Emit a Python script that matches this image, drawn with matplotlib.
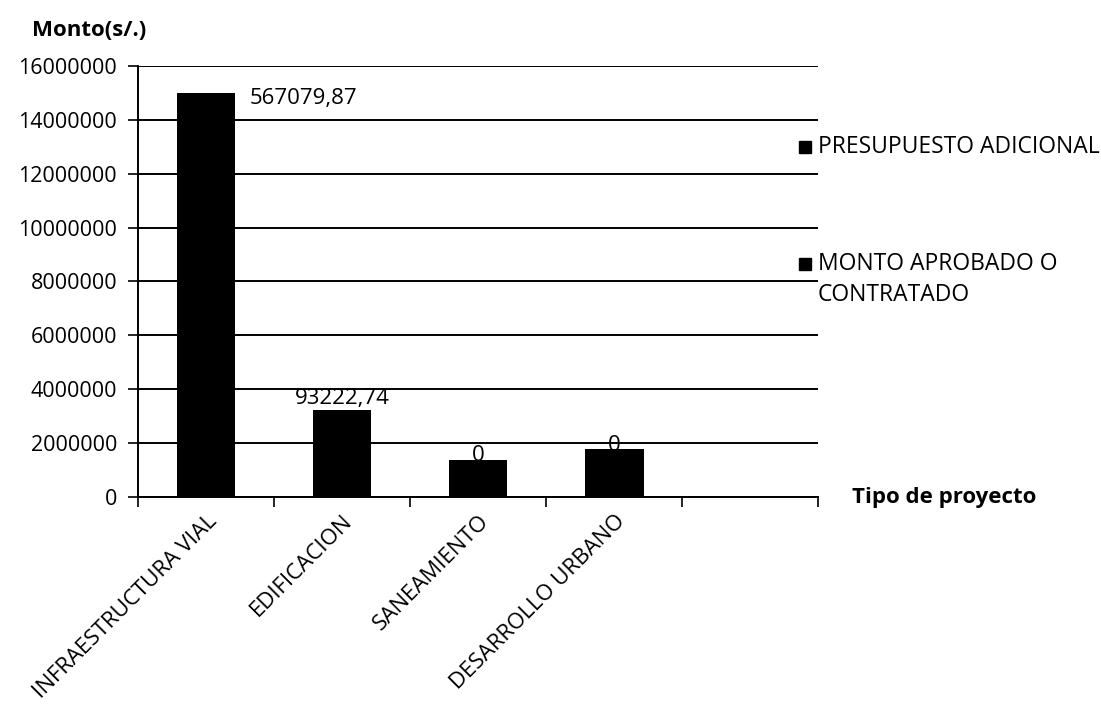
import matplotlib
matplotlib.use("Agg")
import matplotlib.pyplot as plt
from matplotlib.patches import Rectangle

# data
categorias = ["INFRAESTRUCTURA VIAL", "EDIFICACION", "SANEAMIENTO", "DESARROLLO URBANO"]
monto_aprobado = [14430000, 3130000, 1370000, 1770000]
presupuesto_adicional = [567079.87, 93222.74, 0, 0]
etiquetas = ["567079,87", "93222,74", "0", "0"]
yticks = [0, 2000000, 4000000, 6000000, 8000000, 10000000, 12000000, 14000000, 16000000]

plt.rcParams['font.family'] = ['Open Sans', 'DejaVu Sans']
plt.rcParams['font.weight'] = 'medium'

fig = plt.figure(figsize=(11.01, 7.08), dpi=100)
ax = fig.add_axes([0.1253, 0.298, 0.618, 0.609])

x = list(range(len(categorias)))
ax.bar(x, monto_aprobado, width=0.43, color="black", zorder=3)
ax.bar(x, presupuesto_adicional, width=0.43, bottom=monto_aprobado, color="black", zorder=3)

ax.set_xlim(-0.5, 4.5)
ax.set_ylim(0, 16000000)
ax.set_yticks(yticks)
ax.set_yticklabels([str(v) for v in yticks], fontsize=15.5)
ax.yaxis.grid(True, color="black", linewidth=1.4, zorder=0)
ax.set_xticks([i - 0.5 for i in range(6)])
ax.set_xticklabels([])
ax.set_xticks(x, minor=True)
ax.set_xticklabels(categorias, minor=True, rotation=45, ha="right",
                   rotation_mode="anchor", fontsize=16)
ax.tick_params(axis="x", which="minor", length=0, pad=10)
ax.tick_params(axis="x", which="major", length=7, width=1.2, direction="out")
ax.tick_params(axis="y", length=7, width=1.2, pad=8)
for s in ["top", "right"]:
    ax.spines[s].set_visible(False)
for s in ["left", "bottom"]:
    ax.spines[s].set_linewidth(1.4)

# data labels
tot = [m + a for m, a in zip(monto_aprobado, presupuesto_adicional)]
ax.annotate(etiquetas[0], (x[0] + 0.215, tot[0]), xytext=(10, -4),
            textcoords="offset points", ha="left", va="center", fontsize=16)
ax.annotate(etiquetas[1], (x[1], tot[1]), xytext=(0, 1),
            textcoords="offset points", ha="center", va="bottom", fontsize=16)
for i in [2, 3]:
    ax.annotate(etiquetas[i], (x[i], tot[i]), xytext=(0, 3),
                textcoords="offset points", ha="center", va="center",
                fontsize=16, zorder=4)

fig.text(0.029, 0.957, "Monto(s/.)", fontsize=16, fontweight="bold", va="center")
fig.text(0.774, 0.298, "Tipo de proyecto", fontsize=16, fontweight="bold", va="center")

# legend drawn by hand
fig.add_artist(Rectangle((0.7257, 0.784), 0.0109, 0.017, transform=fig.transFigure,
                         color="black"))
fig.text(0.743, 0.793, "PRESUPUESTO ADICIONAL", fontsize=16.5, va="center")
fig.add_artist(Rectangle((0.7257, 0.618), 0.0109, 0.017, transform=fig.transFigure,
                         color="black"))
fig.text(0.743, 0.627, "MONTO APROBADO O", fontsize=16.5, va="center")
fig.text(0.743, 0.583, "CONTRATADO", fontsize=16.5, va="center")

fig.savefig("out.png", dpi=100)
